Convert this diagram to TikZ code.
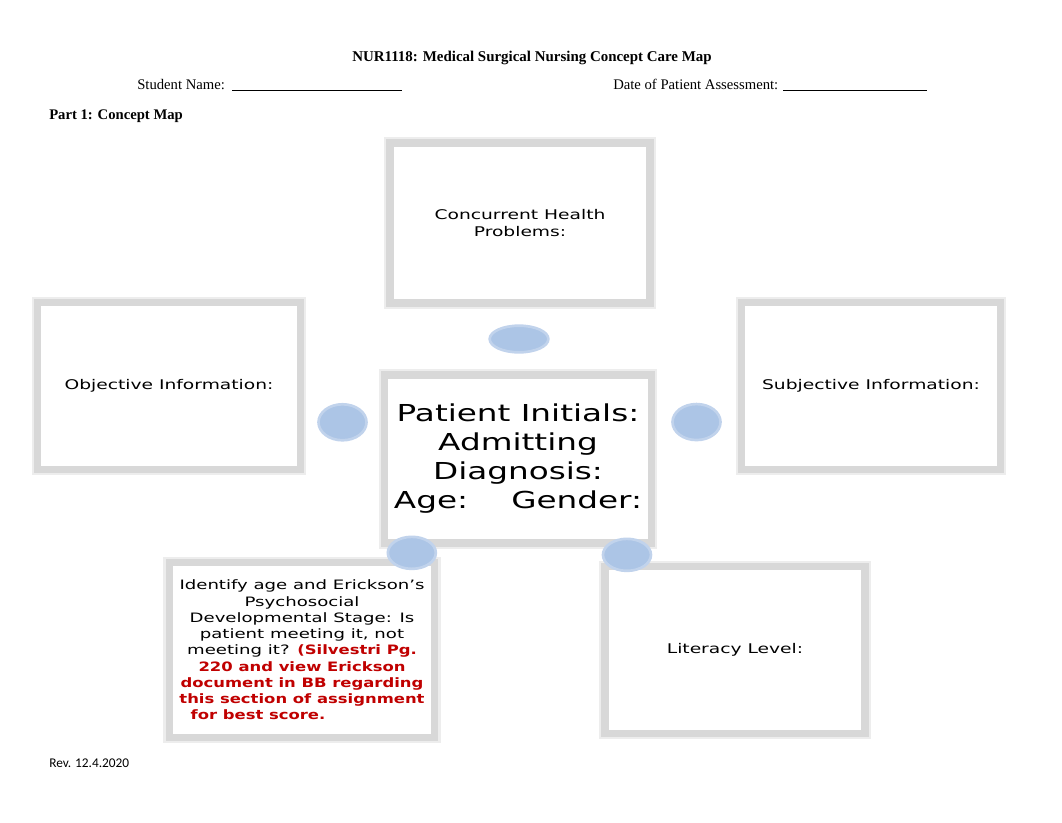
\documentclass[tikz,border=0pt]{standalone}
\usepackage{fontspec}
\setmainfont{Liberation Serif}
\newfontfamily\boxfont[FakeStretch=1.4]{DejaVu Sans}
\newfontfamily\hintfont[FakeStretch=1.27]{DejaVu Sans Bold}
\newfontfamily\revfont{Carlito}
\usetikzlibrary{shapes.geometric}
\definecolor{framegray}{RGB}{216,216,216}
\definecolor{blobblue}{RGB}{172,197,230}
\definecolor{hintred}{RGB}{192,0,0}

\begin{document}
\begin{tikzpicture}[
    x=0.75pt, y=-0.75pt,
    every node/.style={inner sep=0pt},
    box/.style={draw=framegray, line width=5.5pt, preaction={draw=framegray!45, line width=9pt}, fill=white, minimum width=196pt, minimum height=124pt, align=center, font=\boxfont\fontsize{10}{12.2}\selectfont},
    blob/.style={ellipse, fill=blobblue, draw=blobblue!75, line width=2pt, minimum width=36pt, minimum height=24pt},
    head/.style={anchor=base west, font=\fontsize{11}{13}\selectfont}
]
\useasboundingbox (0,0) rectangle (1062,822);

% header
\node[anchor=base, font=\bfseries\fontsize{11.2}{13}\selectfont] (title) at (532,61) {NUR1118: Medical Surgical Nursing Concept Care Map};
\node[head] (student) at (137,89) {Student Name:\ \ \rule[-1.5pt]{127pt}{0.5pt}};
\node[head] (date) at (613,89) {Date of Patient Assessment: \rule[-1.5pt]{108pt}{0.5pt}};
\node[head, font=\bfseries\fontsize{11}{13}\selectfont] (part) at (49,119) {Part 1: Concept Map};

% boxes
\node[box, minimum width=195pt, minimum height=120pt] (conc) at (520,223) {Concurrent Health\\Problems:};
\node[box, minimum width=197pt, minimum height=125pt] (obj) at (169,386) {Objective Information:};
\node[box, minimum width=194pt, minimum height=125pt] (subj) at (871,386) {Subjective Information:};
\node[box, minimum width=200pt, minimum height=126pt, font=\boxfont\fontsize{17.5}{21.75}\selectfont] (pat) at (518,459) {Patient Initials:\\Admitting\\Diagnosis:\\Age:\hspace{22pt} Gender:};
\node[box, minimum width=199pt, minimum height=131pt, font=\boxfont\fontsize{9.7}{12.2}\selectfont] (erik) at (302,650) {Identify age and Erickson’s\\Psychosocial\\Developmental Stage: Is\\patient meeting it, not\\meeting it? \textcolor{hintred}{\hintfont(Silvestri Pg.}\\\textcolor{hintred}{\hintfont 220 and view Erickson}\\\textcolor{hintred}{\hintfont document in BB regarding}\\\textcolor{hintred}{\hintfont this section of assignment}\\\textcolor{hintred}{\hintfont for best score.}\hspace*{66pt}};
\node[box, minimum width=195pt, minimum height=125pt] (lit) at (735,650) {Literacy Level:};

% blobs between the boxes
\path (pat) -- (conc) node[blob, midway, minimum width=44pt, minimum height=20pt] (toconc) {};
\path (pat) -- (obj) node[blob, midway, minimum width=36pt, minimum height=27pt] (toobj) {};
\path (pat) -- (subj) node[blob, midway, minimum width=36pt, minimum height=27pt] (tosubj) {};
\path (pat) -- (erik) node[blob, midway] (toerik) {};
\path (pat) -- (lit) node[blob, midway] (tolit) {};

% footer
\node[anchor=base west, font=\revfont\fontsize{10}{12}\selectfont] (rev) at (49,767) {Rev. 12.4.2020};

\end{tikzpicture}
\end{document}
